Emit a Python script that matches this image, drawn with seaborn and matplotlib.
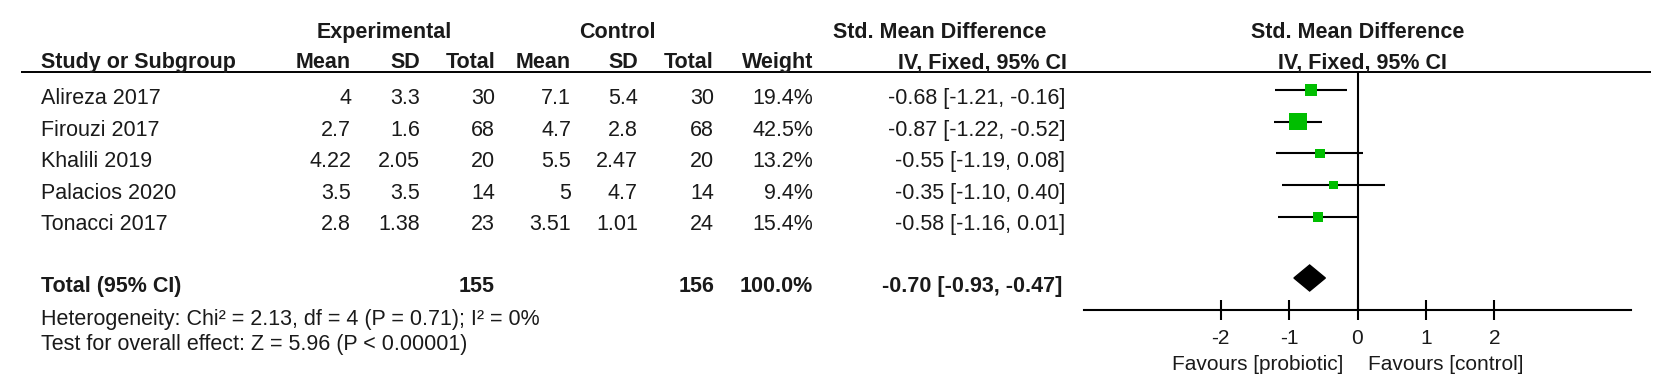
import numpy as np
import matplotlib.pyplot as plt
import seaborn as sns

# Study data
studies = ["Alireza 2017", "Firouzi 2017", "Khalili 2019", "Palacios 2020", "Tonacci 2017"]
exp_mean = ["4", "2.7", "4.22", "3.5", "2.8"]
exp_sd = ["3.3", "1.6", "2.05", "3.5", "1.38"]
exp_total = [30, 68, 20, 14, 23]
ctrl_mean = ["7.1", "4.7", "5.5", "5", "3.51"]
ctrl_sd = ["5.4", "2.8", "2.47", "4.7", "1.01"]
ctrl_total = [30, 68, 20, 14, 24]
weight = [19.4, 42.5, 13.2, 9.4, 15.4]
smd = [-0.68, -0.87, -0.55, -0.35, -0.58]
ci_low = [-1.21, -1.22, -1.19, -1.10, -1.16]
ci_high = [-0.16, -0.52, 0.08, 0.40, 0.01]

total_exp = 155
total_ctrl = 156
total_smd = -0.70
total_low = -0.93
total_high = -0.47
heterogeneity = "Heterogeneity: Chi² = 2.13, df = 4 (P = 0.71); I² = 0%"
overall = "Test for overall effect: Z = 5.96 (P < 0.00001)"
x_ticks = [-2, -1, 0, 1, 2]

sns.set_style("white")
plt.rcParams["font.family"] = ["Liberation Sans", "DejaVu Sans"]

W, H = 1654, 389
fig = plt.figure(figsize=(W / 100, H / 100), dpi=100)

# table layer in pixel coordinates
tab = fig.add_axes([0, 0, 1, 1])
tab.set_xlim(0, W)
tab.set_ylim(H, 0)
tab.axis("off")

txt = "#1a1a1a"
fs = 15.5
name_x = 41
col_x = [351, 420, 495, 571, 638, 714, 813]
ci_x = 1065

# headers
tab.text(384, 38, "Experimental", ha="center", fontsize=fs, fontweight="bold", color=txt)
tab.text(617, 38, "Control", ha="center", fontsize=fs, fontweight="bold", color=txt)
tab.text(940, 38, "Std. Mean Difference", ha="center", fontsize=fs, fontweight="bold", color=txt)
tab.text(1358, 38, "Std. Mean Difference", ha="center", fontsize=fs, fontweight="bold", color=txt)
tab.text(name_x, 68, "Study or Subgroup", ha="left", fontsize=fs, fontweight="bold", color=txt)
for x, h in zip(col_x, ["Mean", "SD", "Total", "Mean", "SD", "Total", "Weight"]):
    tab.text(x, 68, h, ha="right", fontsize=fs, fontweight="bold", color=txt)
tab.text(982, 68, "IV, Fixed, 95% CI", ha="center", fontsize=fs, fontweight="bold", color=txt)
tab.text(1362, 68, "IV, Fixed, 95% CI", ha="center", fontsize=fs, fontweight="bold", color=txt)
tab.plot([21, 1651], [72, 72], color="black", lw=1.4, solid_capstyle="butt")

# study rows
for i, name in enumerate(studies):
    yb = 104 + 31.6 * i
    vals = [exp_mean[i], exp_sd[i], str(exp_total[i]), ctrl_mean[i], ctrl_sd[i],
            str(ctrl_total[i]), f"{weight[i]:.1f}%"]
    tab.text(name_x, yb, name, ha="left", fontsize=fs, color=txt)
    for x, v in zip(col_x, vals):
        tab.text(x, yb, v, ha="right", fontsize=fs, color=txt)
    tab.text(ci_x, yb, f"{smd[i]:.2f} [{ci_low[i]:.2f}, {ci_high[i]:.2f}]",
             ha="right", fontsize=fs, color=txt)

# total row
yb = 292
tab.text(name_x, yb, "Total (95% CI)", ha="left", fontsize=fs, fontweight="bold", color=txt)
tab.text(col_x[2], yb, str(total_exp), ha="right", fontsize=fs, fontweight="bold", color=txt)
tab.text(col_x[5], yb, str(total_ctrl), ha="right", fontsize=fs, fontweight="bold", color=txt)
tab.text(col_x[6], yb, "100.0%", ha="right", fontsize=fs, fontweight="bold", color=txt)
tab.text(ci_x - 3, yb, f"{total_smd:.2f} [{total_low:.2f}, {total_high:.2f}]",
         ha="right", fontsize=fs, fontweight="bold", color=txt)
tab.text(name_x, 325, heterogeneity, ha="left", fontsize=fs, color=txt)
tab.text(name_x, 350, overall, ha="left", fontsize=fs, color=txt)
tab.text(1343, 370, "Favours [probiotic]", ha="right", fontsize=15, color=txt)
tab.text(1368, 370, "Favours [control]", ha="left", fontsize=15, color=txt)

# forest plot axes
x0, x1, ytop, ybot = 1084, 1631, 72, 310
ax = fig.add_axes([x0 / W, (H - ybot) / H, (x1 - x0) / W, (ybot - ytop) / H])
ax.patch.set_alpha(0)
ax.set_xlim(-4, 4)
row_step = 31.7
ax.set_ylim((ybot - 90) / row_step, (ytop - 90) / row_step)

rows = np.arange(len(studies))
ax.hlines(rows, ci_low, ci_high, color="black", lw=1.5)
sns.scatterplot(x=smd, y=rows, size=weight, sizes=(159 * 9.4 / 42.5, 159),
                size_norm=(9.4, 42.5), marker="s", color="#00BE00",
                edgecolor="none", linewidth=0, legend=False, ax=ax, zorder=3)

ty = (278 - 90) / row_step
dh = 13 / row_step
ax.fill([total_low, total_smd, total_high, total_smd],
        [ty, ty - dh, ty, ty + dh], color="black", zorder=3)
ax.axvline(0, color="black", lw=1.5)

for s in ["top", "right", "left"]:
    ax.spines[s].set_visible(False)
ax.spines["bottom"].set_linewidth(1.5)
ax.spines["bottom"].set_color("black")
ax.set_yticks([])
ax.set_xticks(x_ticks)
ax.set_xticklabels([str(t) for t in x_ticks])
ax.tick_params(axis="x", direction="inout", length=15, width=1.5, pad=6,
               labelsize=15, colors="black", labelcolor=txt, bottom=True)
ax.set_xlabel("")
ax.set_ylabel("")

fig.savefig("out.png", dpi=100)
